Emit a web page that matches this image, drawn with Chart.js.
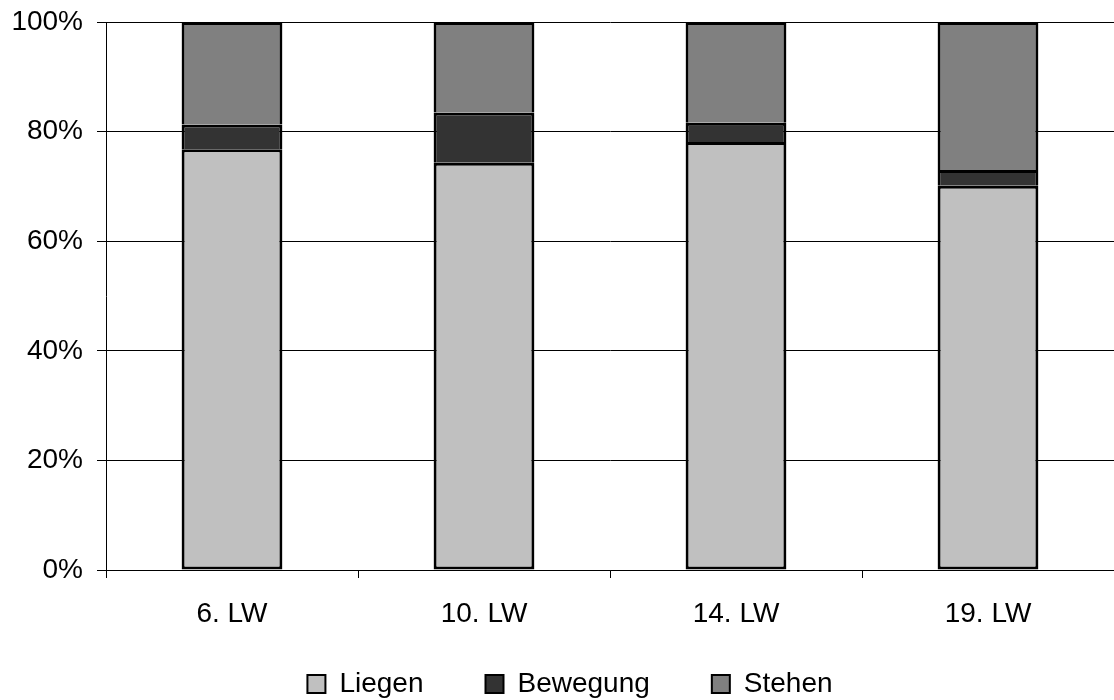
<!DOCTYPE html>
<html>
<head>
<meta charset="utf-8">
<script src="https://cdn.jsdelivr.net/npm/chart.js@4"></script>
<style>
  html, body { margin: 0; padding: 0; background: #fff; }
  #wrap { width: 1114px; height: 700px; }
</style>
</head>
<body>
<div id="wrap"><canvas id="myChart" width="1114" height="700"></canvas></div>
<script>
// Lebenswochen and the share of time per behaviour (in %)
var weeks = ['6. LW', '10. LW', '14. LW', '19. LW'];
var liegen = [76.8, 74.3, 78.1, 70.1];
var bewegung = [4.5, 9.2, 3.5, 2.9];
var stehen = [18.7, 16.5, 18.4, 27.0];
var yTicks = [0, 20, 40, 60, 80, 100];

Chart.defaults.font.family = '"Liberation Sans", Arial, sans-serif';
Chart.defaults.font.size = 28;
Chart.defaults.color = '#000';

// stacked segments: only the lowest one gets a bottom edge, so the
// dividing lines between segments are not doubled
function barSet(label, values, colour, lowest) {
    return {
        label: label,
        data: values,
        backgroundColor: colour,
        borderColor: '#000',
        borderWidth: { top: 3, left: 3, right: 3, bottom: lowest ? 3 : 0 },
        borderSkipped: false,
        barPercentage: 0.4,
        categoryPercentage: 1.0
    };
}

// after layout: nudge the legend row to the right and let the x labels
// extend below the (deliberately short) x axis box without being clipped
const layoutTweak = {
    id: 'layoutTweak',
    afterLayout: function (chart) {
        if (chart.legend) {
            chart.legend.left += 13;
            chart.legend.right += 13;
        }
        chart.scales.x.bottom += 30;
    }
};

function plot() {
const ctx = document.getElementById('myChart').getContext('2d');
const data = {
    labels: weeks,
    datasets: [
        barSet('Liegen', liegen, '#c0c0c0', true),
        barSet('Bewegung', bewegung, '#333333', false),
        barSet('Stehen', stehen, '#808080', false)
    ]
};
const config = {
    type: 'bar',
    data: data,
    plugins: [layoutTweak],
    options: {
        responsive: false,
        animation: false,
        layout: {
            padding: { top: 22, left: 0, right: 0, bottom: -8 }
        },
        plugins: {
            tooltip: { enabled: false },
            legend: {
                position: 'bottom',
                labels: {
                    font: { size: 28 },
                    boxWidth: 18,
                    boxHeight: 18,
                    padding: 62,
                    generateLabels: function (chart) {
                        return chart.data.datasets.map(function (ds, i) {
                            return {
                                text: ds.label,
                                fillStyle: ds.backgroundColor,
                                strokeStyle: '#000',
                                lineWidth: 2,
                                datasetIndex: i
                            };
                        });
                    }
                }
            }
        },
        scales: {
            x: {
                stacked: true,
                grid: {
                    offset: true,
                    drawOnChartArea: false,
                    drawTicks: true,
                    tickLength: 8,
                    color: '#000'
                },
                border: { display: true, color: '#000' },
                ticks: { font: { size: 28 }, padding: 19 },
                afterFit: function (scale) { scale.height = 38; }
            },
            y: {
                stacked: true,
                min: 0,
                max: 100,
                afterBuildTicks: function (scale) {
                    scale.ticks = yTicks.map(function (v) { return { value: v }; });
                },
                grid: {
                    color: '#000',
                    lineWidth: 1,
                    tickLength: 9
                },
                border: { display: true, color: '#000' },
                ticks: {
                    font: { size: 28 },
                    padding: 14,
                    callback: function (v) { return v + '%'; }
                },
                afterFit: function (scale) {
                    scale.width = 106;
                    scale.paddingTop = 0;
                    scale.paddingBottom = 0;
                }
            }
        }
    }
};

if (typeof plot.myChart === 'undefined' || plot.myChart === null) {
    plot.myChart = new Chart(ctx, config);
} else {
    plot.myChart.destroy();
    plot.myChart = new Chart(ctx, config);
}
}

plot();
</script>
</body>
</html>
